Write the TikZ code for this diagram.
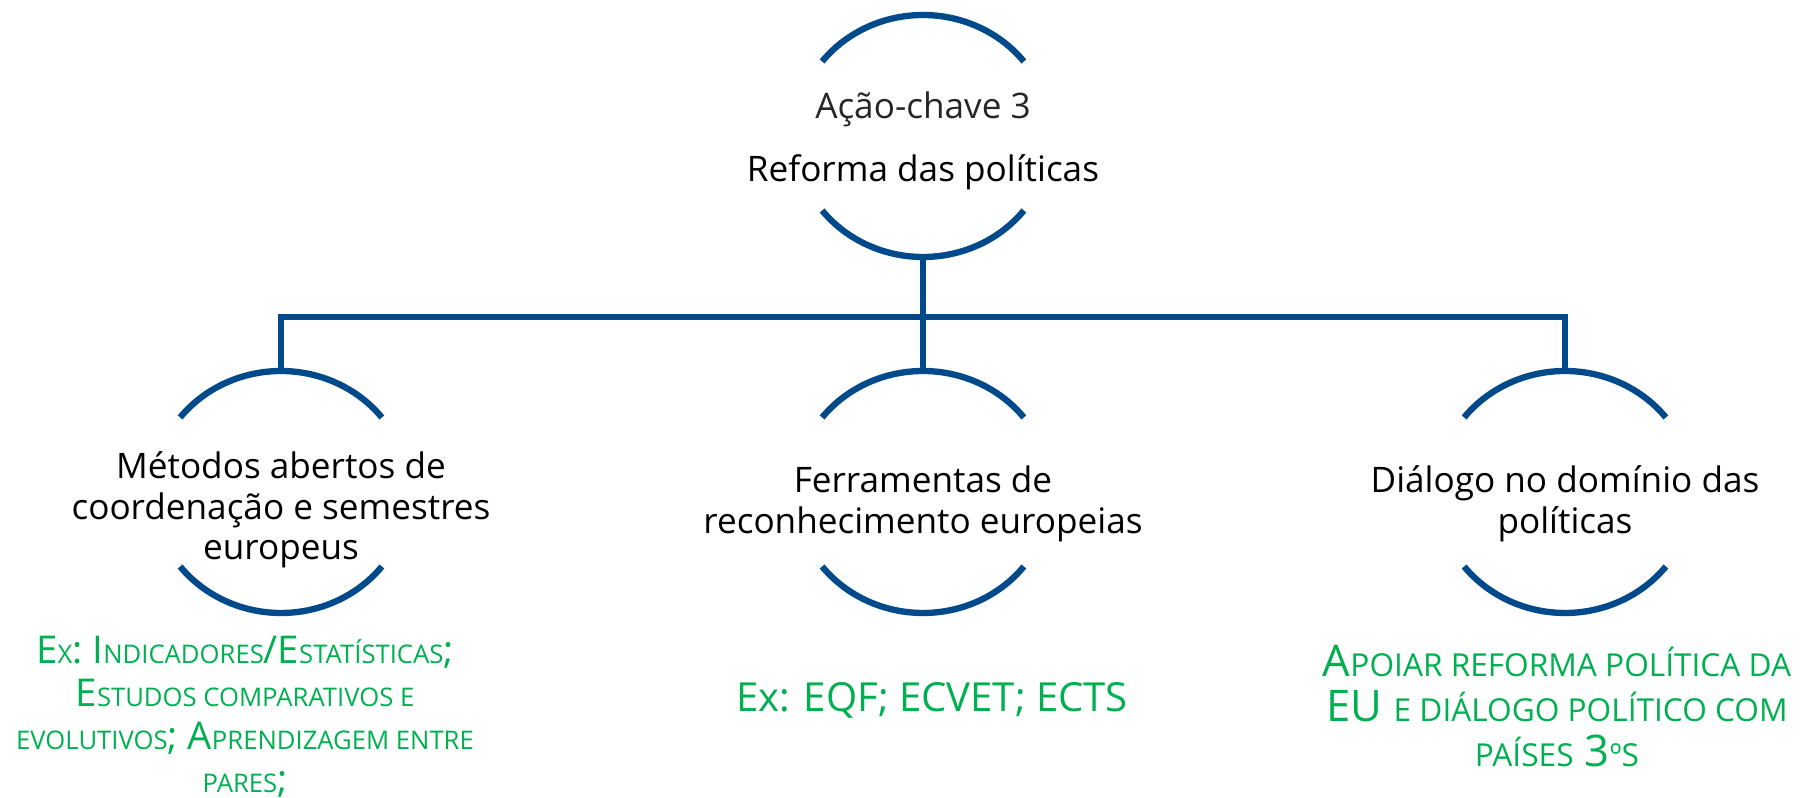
\documentclass[tikz,border=0pt]{standalone}
\usepackage{fontspec}
\setmainfont{Open Sans}
\usepackage{tikz}
\definecolor{kablue}{HTML}{004A8C}
\definecolor{kagreen}{HTML}{00B050}
\tikzset{
ring/.style={circle,minimum size=2.42cm,inner sep=0pt,outer sep=0pt},
arcline/.style={kablue,line width=1.8pt},
link/.style={kablue,line width=1.8pt},
bartext/.style={align=center,font=\fontsize{10}{11.6}\selectfont},
greentext/.style={align=center,text=kagreen}
}
\newcommand{\arcpair}[1]{
\draw[arcline] ([shift={(38:1.28 and 1.21)}]#1.center) arc [x radius=1.28,y radius=1.21,start angle=38,end angle=142];
\draw[arcline] ([shift={(218:1.28 and 1.21)}]#1.center) arc [x radius=1.28,y radius=1.21,start angle=218,end angle=322];
}
\newcommand{\scsmall}[1]{{\fontsize{7.3}{12}\selectfont #1}}
\newcommand{\scsmallb}[1]{{\fontsize{9}{12.8}\selectfont #1}}

\begin{document}
\begin{tikzpicture}
\useasboundingbox (0,0) rectangle (18.2,-7.98);
\node[ring] (top) at (9.23,-1.36) {};
\node[ring] (left) at (2.81,-4.92) {};
\node[ring] (mid) at (9.23,-4.92) {};
\node[ring] (right) at (15.65,-4.92) {};
\arcpair{top}
\arcpair{left}
\arcpair{mid}
\arcpair{right}
\coordinate (bar) at (9.23,-3.17);
\draw[link] (top.south) -- (mid.north);
\draw[link] (left.north) -- (left.north |- bar) -- (right.north |- bar) -- (right.north);
\node[align=center] (topText) at (9.23,-1.41) {{\fontsize{10}{16}\selectfont\color{black!85}Ação-chave 3}\\[6pt]{\fontsize{10}{16}\selectfont Reforma das políticas}};
\node[bartext] (leftText) at (2.81,-5.1) {Métodos abertos de\\coordenação e semestres\\europeus};
\node[bartext] (midText) at (9.23,-5.04) {Ferramentas de\\reconhecimento europeias};
\node[bartext] (rightText) at (15.65,-5.04) {Diálogo no domínio das\\políticas};
\node[greentext,font=\fontsize{10.9}{12.2}\selectfont] (leftEx) at (2.45,-7.17)
{E\scsmall{X}: I\scsmall{NDICADORES}/E\scsmall{STATÍSTICAS};\\E\scsmall{STUDOS COMPARATIVOS E}\\\scsmall{EVOLUTIVOS}; A\scsmall{PRENDIZAGEM ENTRE}\\\scsmall{PARES};};
\node[greentext,font=\fontsize{11.4}{12.8}\selectfont] (midEx) at (9.32,-7.0) {Ex: EQF; ECVET; ECTS};
\node[greentext,font=\fontsize{12.4}{12.8}\selectfont] (rightEx) at (15.57,-7.06)
{A\scsmallb{POIAR REFORMA POLÍTICA DA}\\EU \scsmallb{E DIÁLOGO POLÍTICO COM}\\\scsmallb{PAÍSES} 3\scsmallb{ºS}};
\end{tikzpicture}
\end{document}
